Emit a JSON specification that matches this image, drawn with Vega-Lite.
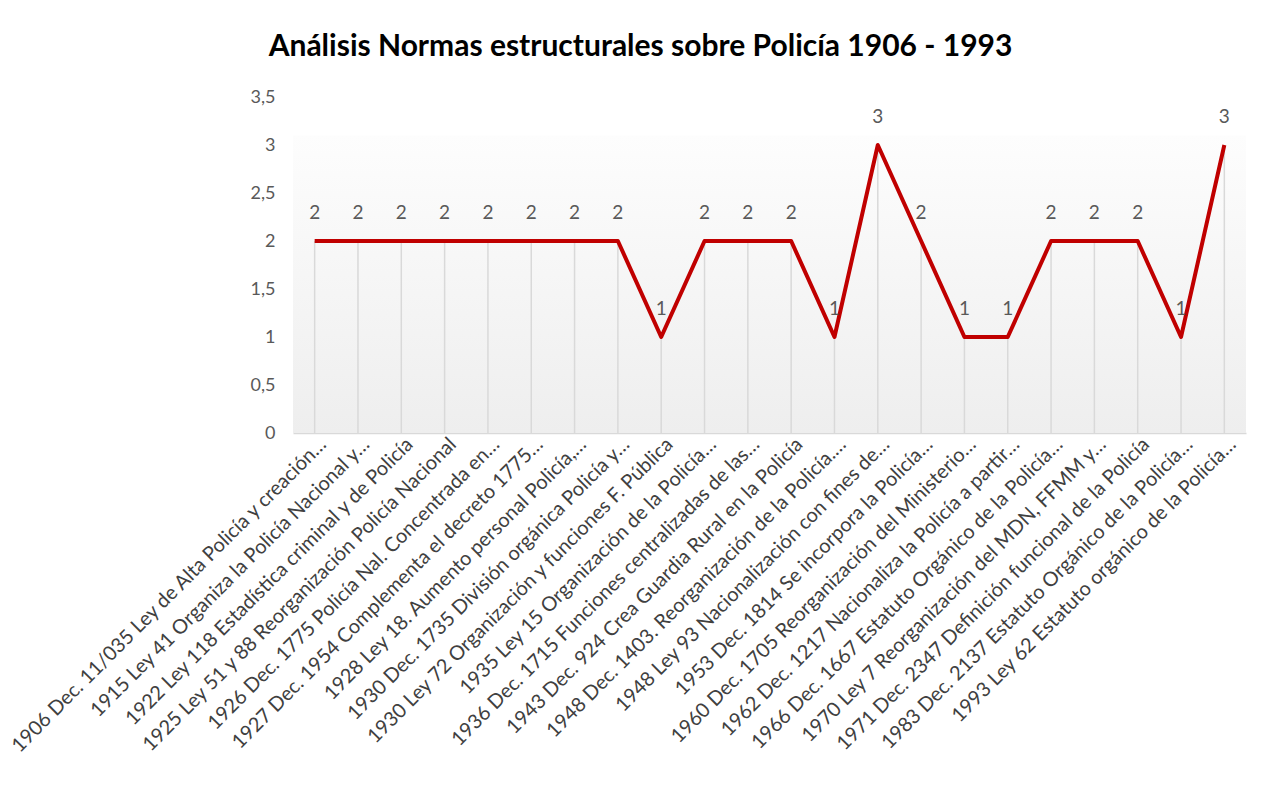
{
  "$schema": "https://vega.github.io/schema/vega-lite/v6.json",
  "width": 953,
  "height": 336,
  "autosize": {"type": "none"},
  "padding": {"left": 293, "top": 97, "right": 24, "bottom": 366},
  "background": "white",
  "config": {"view": {"stroke": null}, "font": "Lato"},
  "title": {
    "text": "Análisis Normas estructurales sobre Policía 1906 - 1993",
    "font": "Lato",
    "fontSize": 30,
    "fontWeight": "bold",
    "color": "#000000",
    "anchor": "middle",
    "frame": "group",
    "dx": -129,
    "baseline": "alphabetic",
    "offset": 2
  },
  "datasets": {
    "normas": [
      {"norma": "1906 Dec. 11/035 Ley de Alta Policía y creación…", "valor": 2},
      {"norma": "1915 Ley 41 Organiza la Policía Nacional y…", "valor": 2},
      {"norma": "1922 Ley 118 Estadística criminal y de Policía", "valor": 2},
      {"norma": "1925 Ley 51 y 88 Reorganización Policía Nacional", "valor": 2},
      {"norma": "1926 Dec. 1775 Policía Nal. Concentrada en…", "valor": 2},
      {"norma": "1927 Dec. 1954 Complementa el decreto 1775…", "valor": 2},
      {"norma": "1928 Ley 18. Aumento personal Policía,…", "valor": 2},
      {"norma": "1930 Dec. 1735 División orgánica Policía y…", "valor": 2},
      {"norma": "1930 Ley 72 Organización y funciones F. Pública", "valor": 1},
      {"norma": "1935 Ley 15 Organización de la Policía…", "valor": 2},
      {"norma": "1936 Dec. 1715 Funciones centralizadas de las…", "valor": 2},
      {"norma": "1943 Dec. 924 Crea Guardia Rural en la Policía", "valor": 2},
      {"norma": "1948 Dec. 1403. Reorganización de la Policía.…", "valor": 1},
      {"norma": "1948 Ley 93 Nacionalización con fines de…", "valor": 3},
      {"norma": "1953 Dec. 1814 Se incorpora la Policía…", "valor": 2},
      {"norma": "1960 Dec. 1705 Reorganización del Ministerio…", "valor": 1},
      {"norma": "1962 Dec. 1217 Nacionaliza la Policía a partir…", "valor": 1},
      {"norma": "1966 Dec. 1667 Estatuto Orgánico de la Policía…", "valor": 2},
      {"norma": "1970 Ley 7 Reorganización del MDN, FFMM y…", "valor": 2},
      {"norma": "1971 Dec. 2347 Definición funcional de la Policía", "valor": 2},
      {"norma": "1983 Dec. 2137 Estatuto Orgánico de la Policía…", "valor": 1},
      {"norma": "1993 Ley 62 Estatuto orgánico de la Policía…", "valor": 3}
    ],
    "fondo": [{"zona": "plot"}]
  },
  "layer": [
    {
      "data": {"name": "fondo"},
      "mark": {
        "type": "rect",
        "fill": {
          "gradient": "linear",
          "x1": 0, "y1": 0, "x2": 0, "y2": 1,
          "stops": [
            {"offset": 0, "color": "#fdfdfd"},
            {"offset": 1, "color": "#eeeeee"}
          ]
        }
      },
      "encoding": {
        "y": {
          "datum": 3.1, "type": "quantitative",
          "scale": {"domain": [0, 3.5], "nice": false},
          "axis": {
            "title": null,
            "values": [0, 0.5, 1, 1.5, 2, 2.5, 3, 3.5],
            "labelExpr": "replace(format(datum.value, '~g'), '.', ',')",
            "domain": false,
            "ticks": false,
            "grid": false,
            "labelPadding": 18,
            "labelFontSize": 18,
            "labelFont": "Lato",
            "labelColor": "#595959"
          }
        },
        "y2": {"datum": 0}
      }
    },
    {
      "data": {"name": "normas"},
      "mark": {"type": "rule", "color": "#d9d9d9", "strokeWidth": 1.5},
      "encoding": {
        "x": {
          "field": "norma", "type": "nominal", "sort": null,
          "scale": {"type": "point", "padding": 0.5},
          "axis": {
            "title": null,
            "labelAngle": -45,
            "labelAlign": "right",
            "labelBaseline": "middle",
            "labelLimit": 1000,
            "labelFontSize": 20,
            "labelFont": "Lato",
            "labelColor": "#404040",
            "labelPadding": 8,
            "labelOffset": 8,
            "ticks": false,
            "domainColor": "#d9d9d9",
            "domainWidth": 1.5,
            "grid": false
          }
        },
        "y": {"field": "valor", "type": "quantitative"},
        "y2": {"datum": 0}
      }
    },
    {
      "data": {"name": "normas"},
      "mark": {"type": "line", "color": "#c00000", "strokeWidth": 4, "strokeJoin": "round"},
      "encoding": {
        "x": {"field": "norma", "type": "nominal", "sort": null},
        "y": {"field": "valor", "type": "quantitative"}
      }
    },
    {
      "data": {"name": "normas"},
      "mark": {"type": "text", "dy": -28, "fontSize": 19, "font": "Lato", "color": "#595959", "baseline": "middle"},
      "encoding": {
        "x": {"field": "norma", "type": "nominal", "sort": null},
        "y": {"field": "valor", "type": "quantitative"},
        "text": {"field": "valor", "type": "quantitative"}
      }
    }
  ]
}
